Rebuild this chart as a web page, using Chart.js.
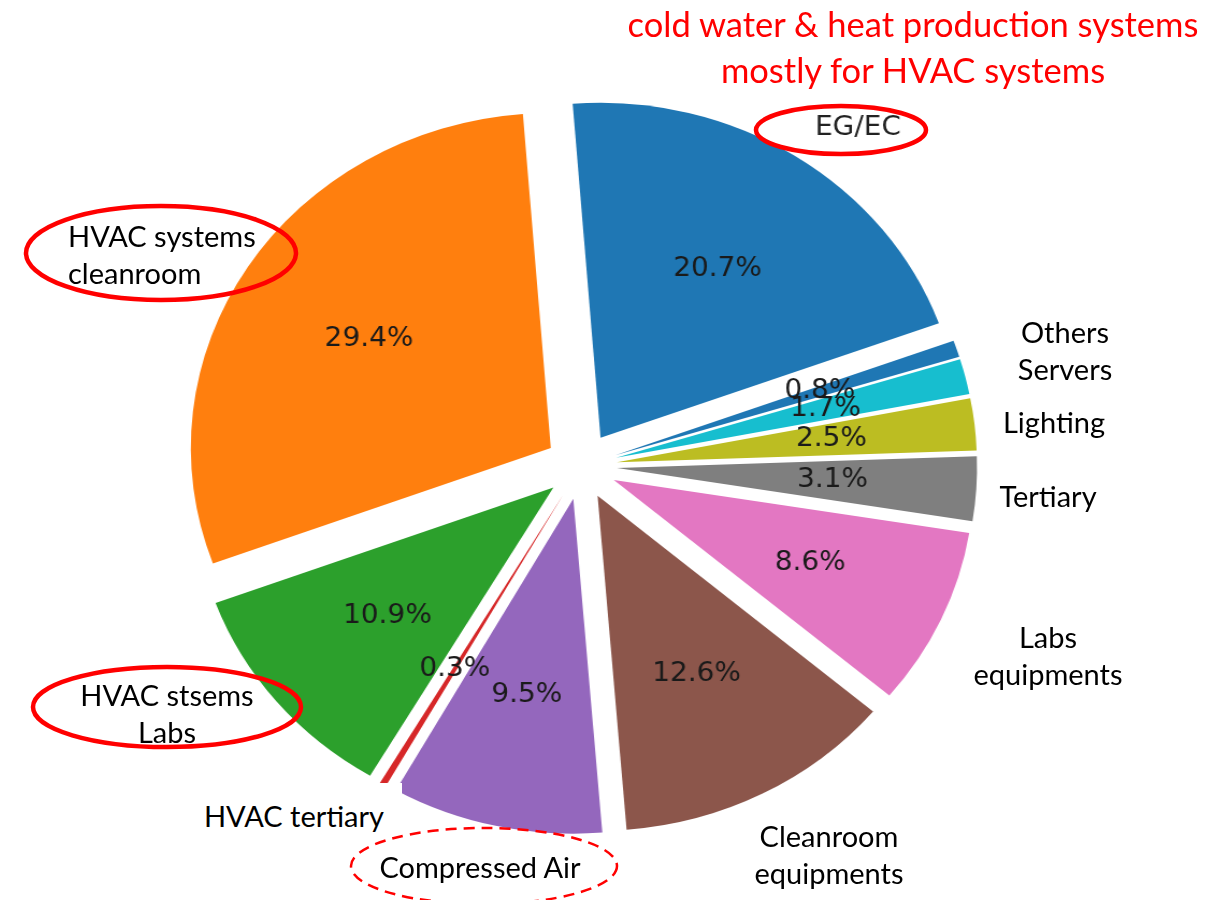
<!DOCTYPE html>
<html>
<head>
<meta charset="utf-8">
<script src="https://cdn.jsdelivr.net/npm/chart.js@4.4.1/dist/chart.umd.min.js"></script>
<style>
  html, body { margin: 0; padding: 0; background: #ffffff; width: 1228px; height: 900px; overflow: hidden; }
  #stage { position: relative; width: 1228px; height: 900px; overflow: hidden; }
  #pie { position: absolute; left: 118.5px; top: 36px; transform-origin: 0 0; transform: scaleX(1.0746); }
  .note { position: absolute; font-family: Lato, "Open Sans", sans-serif; font-size: 29px; color: #000; line-height: 37px; white-space: nowrap; text-align: center; transform: translate(-50%, -50%); }
  .title { position: absolute; font-family: Lato, "Open Sans", sans-serif; font-size: 34.5px; color: #ff0000; line-height: 46px; white-space: nowrap; text-align: center; transform: translate(-50%, -50%); }
  #cover { position: absolute; left: 195px; top: 783px; width: 207px; height: 60px; background: #fff; }
  svg { position: absolute; left: 0; top: 0; }
</style>
</head>
<body>
<div id="stage">
  <canvas id="pie" width="860" height="860"></canvas>
  <div id="cover"></div>
  <div id="notes"></div>
  <svg width="1228" height="900" viewBox="0 0 1228 900">
    <ellipse cx="841" cy="130" rx="85" ry="24" fill="none" stroke="#ff0000" stroke-width="4.5"/>
    <ellipse cx="161" cy="253" rx="135" ry="47" fill="none" stroke="#ff0000" stroke-width="4.5"/>
    <ellipse cx="167" cy="707" rx="134" ry="40" fill="none" stroke="#ff0000" stroke-width="4.5"/>
    <ellipse cx="484" cy="866" rx="133" ry="38" fill="none" stroke="#ff0000" stroke-width="2.5" stroke-dasharray="11 7"/>
  </svg>
</div>
<script>
// ---- data ----
const categories = ['EG/EC', 'HVAC systems cleanroom', 'HVAC stsems Labs', 'HVAC tertiary', 'Compressed Air',
  'Cleanroom equipments', 'Labs equipments', 'Tertiary', 'Lighting', 'Servers', 'Others'];
const shares = [20.7, 29.4, 10.9, 0.3, 9.5, 12.6, 8.6, 3.1, 2.5, 1.7, 0.8];
const sliceColors = ['#1f77b4', '#ff7f0e', '#2ca02c', '#d62728', '#9467bd', '#8c564b',
  '#e377c2', '#7f7f7f', '#bcbd22', '#17becf', '#1f77b4'];
const titleLines = ['cold water & heat production systems', 'mostly for HVAC systems'];
const noteLines = [
  ['HVAC systems', 'cleanroom'],
  ['HVAC stsems', 'Labs'],
  ['HVAC tertiary'],
  ['Compressed Air'],
  ['Cleanroom', 'equipments'],
  ['Labs', 'equipments'],
  ['Tertiary'],
  ['Lighting'],
  ['Others', 'Servers']
];

// ---- layout (positions / styles only) ----
const notePlaces = [
  {x: 68, y: 254, align: 'left'},
  {x: 167, y: 713},
  {x: 294, y: 815},
  {x: 480, y: 866},
  {x: 829, y: 854},
  {x: 1048, y: 655},
  {x: 1048, y: 495},
  {x: 1054, y: 421},
  {x: 1065, y: 350}
];
const titlePlaces = [{x: 913, y: 24}, {x: 913, y: 70}];

const notesDiv = document.getElementById('notes');
noteLines.forEach((lines, i) => {
  const p = notePlaces[i];
  const d = document.createElement('div');
  d.className = 'note';
  d.innerHTML = lines.join('<br>');
  if (p.align === 'left') {
    d.style.textAlign = 'left';
    d.style.transform = 'translate(0, -50%)';
  }
  d.style.left = p.x + 'px';
  d.style.top = p.y + 'px';
  notesDiv.appendChild(d);
});
titleLines.forEach((t, i) => {
  const d = document.createElement('div');
  d.className = 'title';
  d.textContent = t;
  d.style.left = titlePlaces[i].x + 'px';
  d.style.top = titlePlaces[i].y + 'px';
  document.getElementById('stage').appendChild(d);
});

// Chart.js draws clockwise, matplotlib counter-clockwise: reverse order
const order = shares.map((_, i) => i).reverse();
const explodeFrac = 0.1;
const pctDistance = 0.6;
const labelDistance = 1.1;

const piePlugin = {
  id: 'mplPie',
  afterDatasetsUpdate(chart) {
    const area = chart.chartArea;
    const cx = (area.left + area.right) / 2;
    const cy = (area.top + area.bottom) / 2;
    chart.getDatasetMeta(0).data.forEach(arc => {
      const mid = (arc.startAngle + arc.endAngle) / 2;
      const e = explodeFrac * arc.outerRadius;
      arc.x = cx + Math.cos(mid) * e;
      arc.y = cy + Math.sin(mid) * e;
    });
  },
  afterDatasetsDraw(chart) {
    const ctx = chart.ctx;
    ctx.save();
    ctx.font = '26px "DejaVu Sans"';
    ctx.textBaseline = 'middle';
    chart.getDatasetMeta(0).data.forEach((arc, j) => {
      const i = order[j];
      const mid = (arc.startAngle + arc.endAngle) / 2;
      const r = arc.outerRadius;
      ctx.fillStyle = '#1a1a1a';
      ctx.textAlign = 'center';
      ctx.fillText(shares[i].toFixed(1) + '%',
        arc.x + Math.cos(mid) * pctDistance * r,
        arc.y + Math.sin(mid) * pctDistance * r);
      if (i === 0) {
        ctx.fillStyle = '#222222';
        ctx.textAlign = Math.cos(mid) >= 0 ? 'left' : 'right';
        ctx.fillText(categories[i],
          arc.x + Math.cos(mid) * labelDistance * r,
          arc.y + Math.sin(mid) * labelDistance * r);
      }
    });
    ctx.restore();
  }
};

new Chart(document.getElementById('pie'), {
  type: 'pie',
  data: {
    labels: order.map(i => categories[i]),
    datasets: [{
      data: order.map(i => shares[i]),
      backgroundColor: order.map(i => sliceColors[i]),
      borderWidth: 0
    }]
  },
  options: {
    responsive: false,
    devicePixelRatio: 1,
    animation: false,
    events: [],
    rotation: 70,
    radius: 335,
    layout: {padding: 0},
    plugins: {legend: {display: false}, tooltip: {enabled: false}, title: {display: false}}
  },
  plugins: [piePlugin]
});
</script>
</body>
</html>
